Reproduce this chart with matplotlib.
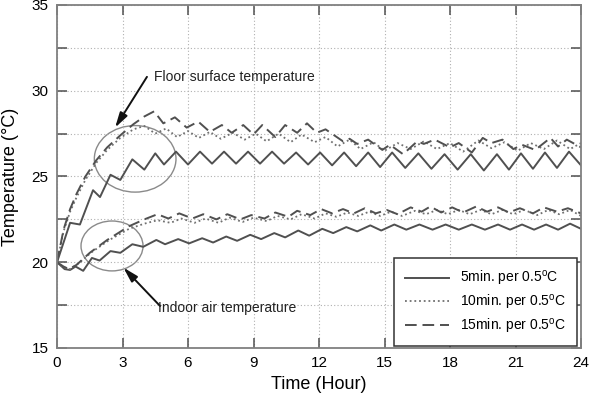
import matplotlib
matplotlib.use('Agg')
import matplotlib.pyplot as plt
from matplotlib.patches import Ellipse

plt.rcParams['font.family'] = ['Liberation Sans', 'DejaVu Sans']
plt.rcParams['mathtext.fontset'] = 'custom'
plt.rcParams['mathtext.rm'] = 'Liberation Sans'
plt.rcParams['mathtext.it'] = 'Liberation Sans:italic'

# ---------------- data ----------------
series_labels = ['5min. per 0.5$^{\\mathrm{o}}$C',
                 '10min. per 0.5$^{\\mathrm{o}}$C',
                 '15min. per 0.5$^{\\mathrm{o}}$C']

# Floor surface temperature, 5 min per 0.5 C (solid)
floor5_t = [0, 0.6, 1.05, 1.65, 1.97, 2.45, 2.9, 3.45, 4.0, 4.5, 4.9, 5.45, 6.0, 6.55,
            7.1, 7.65, 8.2, 8.75, 9.3, 9.85, 10.4, 10.95, 11.5, 12.05, 12.6, 13.15,
            13.7, 14.25, 14.8, 15.35, 15.95, 16.55, 17.15, 17.75, 18.35, 18.95, 19.55,
            20.15, 20.7, 21.25, 21.8, 22.35, 22.9, 23.45, 24.0]
floor5_T = [20.0, 22.3, 22.2, 24.2, 23.8, 25.1, 24.8, 26.0, 25.4, 26.35, 25.7, 26.45, 25.7, 26.45,
            25.75, 26.45, 25.75, 26.45, 25.75, 26.45, 25.75, 26.4, 25.7, 26.4, 25.65, 26.4,
            25.6, 26.4, 25.55, 26.4, 25.5, 26.35, 25.45, 26.3, 25.4, 26.3, 25.35,
            26.3, 25.4, 26.35, 25.45, 26.4, 25.5, 26.45, 25.65]

# Floor surface temperature, 10 min per 0.5 C (dotted)
floor10_t = [0, 0.3, 0.6, 0.9, 1.3, 1.8, 2.3, 2.9, 3.5, 4.0, 4.5, 5.0, 5.5, 6.0, 6.5, 7.0,
             7.5, 8.05, 8.6, 9.1, 9.6, 10.15, 10.7, 11.2, 11.8, 12.3, 12.85, 13.4, 13.9,
             14.5, 15.0, 15.6, 16.2, 16.8, 17.4, 18.0, 18.6, 19.3, 19.9, 20.5, 21.1, 21.7,
             22.3, 22.9, 23.5, 24.0]
floor10_T = [20.0, 21.8, 22.95, 23.8, 24.8, 25.8, 26.55, 27.25, 27.75, 27.95, 27.5, 27.8, 27.3,
             27.65, 27.25, 27.6, 27.2, 27.55, 27.15, 27.5, 27.05, 27.5, 27.0, 27.45, 27.0,
             27.3, 26.75, 27.15, 26.6, 27.0, 26.5, 26.95, 26.6, 27.05, 26.6, 26.95, 26.45,
             27.1, 26.65, 27.0, 26.5, 26.95, 26.6, 27.1, 26.6, 26.95]

# Floor surface temperature, 15 min per 0.5 C (dashed)
floor15_t = [0, 0.3, 0.6, 0.9, 1.3, 1.8, 2.3, 2.9, 3.5, 4.0, 4.45, 4.87, 5.4, 5.94, 6.47,
             7.0, 7.55, 8.0, 8.53, 9.0, 9.4, 10.0, 10.45, 11.0, 11.45, 11.9, 12.3, 13.1,
             13.4, 13.75, 14.25, 14.9, 15.25, 15.85, 16.5, 16.8, 17.3, 18.0, 18.4, 19.0,
             19.5, 19.9, 20.4, 20.9, 21.3, 21.9, 22.6, 22.95, 23.35, 24.0]
floor15_T = [20.0, 21.9, 23.1, 24.0, 25.0, 25.95, 26.7, 27.4, 28.05, 28.5, 28.8, 28.1, 28.45,
             27.85, 28.2, 27.6, 28.0, 27.55, 28.0, 27.45, 28.0, 27.3, 28.0, 27.55, 28.1,
             27.55, 27.75, 27.05, 27.2, 26.9, 27.15, 26.55, 26.85, 26.3, 27.05, 26.9,
             27.15, 26.7, 26.95, 26.4, 27.25, 26.95, 27.15, 26.6, 26.85, 26.55, 27.25,
             26.75, 27.15, 26.7]

# Indoor air temperature, 5 min per 0.5 C (solid)
air5_t = [0, 0.35, 0.6, 0.85, 1.2, 1.6, 1.95, 2.45, 2.9, 3.45, 3.95, 4.55, 4.95, 5.55, 6.05,
          6.65, 7.15, 7.75, 8.25, 8.85, 9.35, 9.95, 10.45, 11.05, 11.55, 12.15, 12.65,
          13.25, 13.75, 14.35, 14.85, 15.45, 16.0, 16.6, 17.2, 17.8, 18.4, 19.0, 19.6,
          20.2, 20.75, 21.3, 21.85, 22.4, 22.95, 23.5, 24.0]
air5_T = [20.0, 19.6, 19.55, 19.75, 19.5, 20.25, 20.1, 20.65, 20.55, 21.05, 20.9, 21.3, 21.05,
          21.35, 21.1, 21.4, 21.15, 21.5, 21.25, 21.6, 21.35, 21.7, 21.45, 21.85, 21.55,
          21.95, 21.7, 22.05, 21.8, 22.15, 21.85, 22.2, 21.9, 22.2, 21.9, 22.2, 21.9,
          22.2, 21.9, 22.2, 21.9, 22.2, 21.9, 22.2, 21.9, 22.25, 21.95]

# Indoor air temperature, 10 min per 0.5 C (dotted)
air10_t = [0, 0.3, 0.6, 1.0, 1.6, 2.4, 3.3, 4.0, 4.6, 5.2, 5.7, 6.3, 6.8, 7.4, 7.9, 8.5,
           9.0, 9.6, 10.1, 10.7, 11.2, 11.8, 12.3, 12.8, 13.3, 13.8, 14.3, 14.8, 15.3,
           15.8, 16.4, 16.9, 17.4, 17.9, 18.4, 18.9, 19.4, 19.9, 20.4, 20.9, 21.4, 22.0,
           22.5, 23.0, 23.5, 24.0]
air10_T = [20.0, 19.7, 19.6, 19.95, 20.6, 21.3, 21.95, 22.25, 22.45, 22.3, 22.55, 22.3, 22.55,
           22.3, 22.6, 22.35, 22.6, 22.4, 22.7, 22.5, 22.8, 22.55, 22.85, 22.65, 22.9,
           22.7, 22.95, 22.7, 22.95, 22.7, 23.0, 22.8, 23.05, 22.8, 23.05, 22.8, 23.05,
           22.8, 23.05, 22.8, 23.05, 22.75, 23.05, 22.8, 23.05, 22.7]

# Indoor air temperature, 15 min per 0.5 C (dashed)
air15_t = [0, 0.3, 0.55, 0.9, 1.5, 2.3, 3.3, 4.0, 4.6, 5.1, 5.6, 6.2, 6.7, 7.3, 7.8, 8.4,
           8.9, 9.5, 10.0, 10.6, 11.0, 11.6, 12.1, 12.6, 13.1, 13.6, 14.1, 14.6, 15.1,
           15.6, 16.2, 16.7, 17.1, 17.6, 18.1, 18.6, 19.2, 19.7, 20.2, 20.7, 21.2, 21.8,
           22.3, 22.9, 23.4, 24.0]
air15_T = [20.0, 19.75, 19.6, 19.85, 20.55, 21.3, 22.1, 22.5, 22.8, 22.55, 22.85, 22.55, 22.8,
           22.5, 22.8, 22.5, 22.75, 22.55, 22.9, 22.65, 23.0, 22.75, 23.1, 22.85, 23.1,
           22.85, 23.15, 22.85, 23.05, 22.8, 23.2, 22.95, 23.25, 22.9, 23.2, 22.9, 23.25,
           22.95, 23.2, 22.9, 23.15, 22.85, 23.2, 22.95, 23.15, 22.85]

x_ticks = [0, 3, 6, 9, 12, 15, 18, 21, 24]
y_ticks = [15, 17.5, 20, 22.5, 25, 27.5, 30, 32.5, 35]
y_tick_labels = ['15', '', '20', '', '25', '', '30', '', '35']

# ---------------- figure ----------------
fig = plt.figure(figsize=(5.89, 3.96), dpi=100)
ax = fig.add_axes([57 / 589, 1 - 348 / 396, (581 - 57) / 589, (348 - 5) / 396])

lc = '#505050'
ls_solid = dict(color=lc, lw=1.4, linestyle='-')
ls_dot = dict(color='#707070', lw=1.3, linestyle=(0, (1, 1.6)))
ls_dash = dict(color=lc, lw=1.4, linestyle=(0, (6, 3)))

h1, = ax.plot(floor5_t, floor5_T, **ls_solid)
h2, = ax.plot(floor10_t, floor10_T, **ls_dot)
h3, = ax.plot(floor15_t, floor15_T, **ls_dash)
ax.plot(air5_t, air5_T, **ls_solid)
ax.plot(air10_t, air10_T, **ls_dot)
ax.plot(air15_t, air15_T, **ls_dash)

ax.set_xlim(0, 24)
ax.set_ylim(15, 35)
ax.set_xticks(x_ticks)
ax.set_yticks(y_ticks)
ax.set_yticklabels(y_tick_labels)
ax.tick_params(direction='in', top=True, right=True, length=7, width=1.1,
               color='#505050', labelsize=11, pad=6)
ax.grid(True, color='#b0b0b0', linestyle=(0, (1, 2)), linewidth=0.8)
for s in ax.spines.values():
    s.set_color('#808080')
    s.set_linewidth(1.3)

ax.set_xlabel('Time (Hour)', fontsize=13, labelpad=4)
ax.set_ylabel('Temperature (\u00b0C)', fontsize=13, labelpad=9)

# ellipses
ax.add_patch(Ellipse((3.58, 26.03), 3.74, 3.88, fill=False, ec='#8a8a8a', lw=1.0))
ax.add_patch(Ellipse((2.52, 20.95), 2.84, 2.91, fill=False, ec='#8a8a8a', lw=1.0))

# annotations
ax.annotate('', xy=(2.66, 27.85), xytext=(4.12, 30.81),
            arrowprops=dict(arrowstyle='-|>,head_length=0.9,head_width=0.25',
                            color='#111111', lw=1.4, shrinkA=0, shrinkB=0))
ax.text(4.44, 30.81, 'Floor surface temperature', fontsize=10, ha='left', va='center',
        color='#222222')
ax.annotate('', xy=(3.04, 19.69), xytext=(4.72, 17.45),
            arrowprops=dict(arrowstyle='-|>,head_length=0.9,head_width=0.25',
                            color='#111111', lw=1.4, shrinkA=0, shrinkB=0))
ax.text(4.63, 17.33, 'Indoor air temperature', fontsize=10, ha='left', va='center',
        color='#222222')

leg = ax.legend([h1, h2, h3], series_labels, loc='lower right',
                bbox_to_anchor=(0.992, 0.006), borderaxespad=0, fontsize=10,
                handlelength=3.2, labelspacing=0.35, borderpad=0.75,
                fancybox=False, framealpha=1, edgecolor='#333333')
leg.get_frame().set_linewidth(1.1)

fig.savefig('out.png', dpi=100)
